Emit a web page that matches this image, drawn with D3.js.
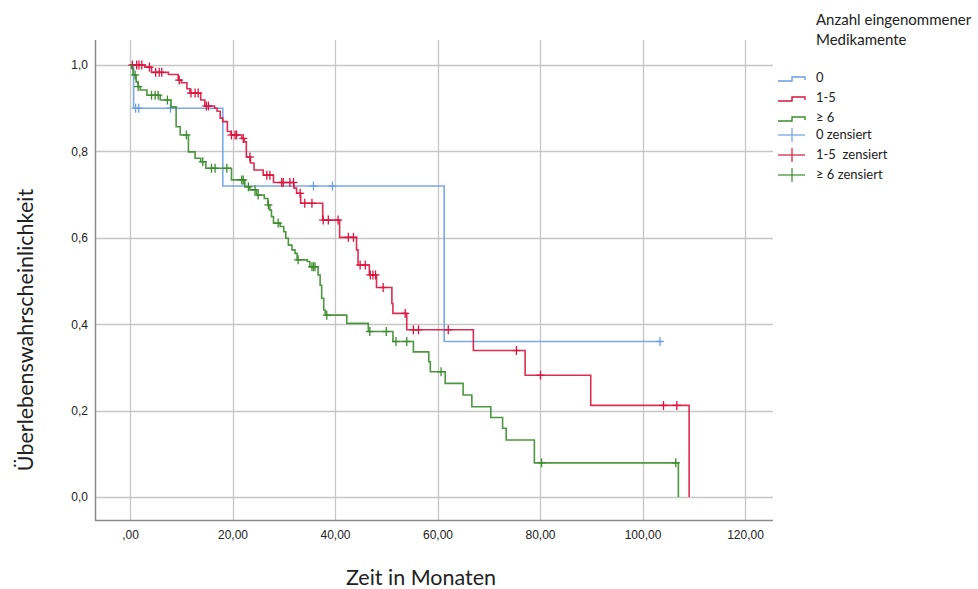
<!DOCTYPE html>
<html>
<head>
<meta charset="utf-8">
<script src="https://cdn.jsdelivr.net/npm/d3@7"></script>
<style>
  html, body { margin: 0; padding: 0; background: #fff; }
  svg { display: block; }
</style>
</head>
<body>
<svg id="chart" width="978" height="589"></svg>
<script>
// ---------- DATA ----------
const xTicks = [0, 20, 40, 60, 80, 100, 120];
const xTickLabels = [",00", "20,00", "40,00", "60,00", "80,00", "100,00", "120,00"];
const yTicks = [0, 0.2, 0.4, 0.6, 0.8, 1.0];
const yTickLabels = ["0,0", "0,2", "0,4", "0,6", "0,8", "1,0"];

const groupNames = ["0", "1-5", "\u2265 6"];
const censorNames = ["0 zensiert", "1-5  zensiert", "\u2265 6 zensiert"];

// Group "0": step times and survival after the step
const g0Times = [0, 0.7, 18.1, 61.3, 104.0];
const g0Surv  = [1.0, 0.9, 0.72, 0.36, 0.36];
const g0Censor = [1.1, 1.7, 7.9, 35.8, 39.5, 103.4];

// Group "1-5"
const g1Times = [0, 2.9, 4.2, 7.5, 9.4, 10.0, 11.1, 11.7, 13.8, 14.6, 16.5, 17.0, 17.6, 18.1, 19.0, 19.7,
  21.8, 22.3, 22.7, 23.5, 24.2, 26.0, 28.0, 32.0, 32.5, 33.3, 37.6, 40.9, 44.2, 44.5, 46.7, 48.1,
  51.1, 51.3, 54.0, 67.0, 77.1, 89.9, 109.1];
const g1Surv = [1.0, 0.995, 0.983, 0.978, 0.965, 0.959, 0.945, 0.935, 0.919, 0.905, 0.9, 0.893, 0.877, 0.869, 0.846, 0.838,
  0.83, 0.822, 0.787, 0.773, 0.757, 0.745, 0.728, 0.715, 0.703, 0.68, 0.641, 0.601, 0.572, 0.537, 0.514, 0.485,
  0.448, 0.425, 0.387, 0.339, 0.282, 0.212, 0.0];
const g1Censor = [0.45, 1.3, 1.75, 2.3, 3.8, 5.0, 5.7, 6.2, 9.6, 11.9, 12.7, 13.3, 14.9, 15.3, 19.8, 20.5, 20.8,
  22.1, 23.4, 26.7, 27.3, 29.6, 29.9, 31.2, 31.9, 33.2, 34.1, 35.5, 37.7, 38.7, 40.6, 42.6, 43.6,
  44.9, 45.9, 46.9, 47.4, 47.9, 49.4, 53.7, 55.3, 56.3, 62.1, 75.4, 80.1, 104.1, 106.7];

// Group ">= 6"
const g2Times = [0, 0.3, 0.6, 1.2, 1.6, 2.0, 3.3, 5.9, 8.0, 9.0, 9.8, 11.4, 12.7, 13.8, 14.8, 19.8,
  22.4, 23.4, 24.7, 26.2, 26.9, 27.3, 27.6, 28.0, 29.3, 30.0, 30.4, 30.9, 31.6, 32.2, 32.6, 34.6,
  35.1, 36.7, 37.1, 37.4, 37.8, 38.1, 42.3, 46.5, 51.3, 55.3, 58.3, 58.6, 61.5, 65.0, 66.7, 70.4,
  72.7, 73.4, 78.9, 107.0];
const g2Surv = [1.0, 0.992, 0.977, 0.961, 0.95, 0.942, 0.93, 0.919, 0.903, 0.857, 0.838, 0.799, 0.784, 0.776, 0.761, 0.734,
  0.718, 0.711, 0.699, 0.691, 0.676, 0.664, 0.649, 0.634, 0.626, 0.614, 0.599, 0.583, 0.572, 0.564, 0.549, 0.545,
  0.533, 0.514, 0.49, 0.46, 0.433, 0.421, 0.402, 0.383, 0.36, 0.336, 0.313, 0.29, 0.263, 0.236, 0.209, 0.184,
  0.159, 0.132, 0.079, 0.0];
const g2Censor = [1.0, 1.6, 4.2, 4.9, 5.5, 7.3, 11.0, 14.2, 15.9, 16.6, 18.9, 21.8, 22.1, 23.1, 24.4, 25.0, 27.0,
  28.9, 32.8, 35.5, 35.8, 36.1, 38.4, 46.8, 50.0, 51.9, 54.0, 60.7, 80.3, 106.5];

const groupColors = ["#6b9ee6", "#d8163f", "#3b8c2c"];

// ---------- LAYOUT ----------
const svg = d3.select("#chart");
const plotLeft = 95, plotRight = 773, plotTop = 40, plotBottom = 520;
const x = d3.scaleLinear().domain([0, 120]).range([130, 745]);
const y = d3.scaleLinear().domain([0, 1]).range([497, 65]);

// gridlines
const grid = svg.append("g");
grid.selectAll("line.h").data(yTicks).enter().append("line")
  .attr("x1", plotLeft).attr("x2", plotRight)
  .attr("y1", d => Math.round(y(d)) + 0.5).attr("y2", d => Math.round(y(d)) + 0.5)
  .attr("stroke", "#c6c6c6").attr("stroke-width", 1.3);
grid.selectAll("line.v").data(xTicks).enter().append("line")
  .attr("y1", plotTop).attr("y2", plotBottom)
  .attr("x1", d => Math.round(x(d)) + 0.5).attr("x2", d => Math.round(x(d)) + 0.5)
  .attr("stroke", "#c6c6c6").attr("stroke-width", 1.3);

// axes
const xAxis = d3.axisBottom(x).tickValues(xTicks).tickSize(0).tickPadding(10)
  .tickFormat((d, i) => xTickLabels[i]);
const gx = svg.append("g").attr("transform", `translate(0,${plotBottom})`).call(xAxis);
gx.select(".domain").remove();
gx.selectAll("text").attr("font-family", "'Liberation Sans', Arial, sans-serif")
  .attr("font-size", 12).attr("fill", "#222");

const yAxis = d3.axisLeft(y).tickValues(yTicks).tickSize(0).tickPadding(7)
  .tickFormat((d, i) => yTickLabels[i]);
const gy = svg.append("g").attr("transform", `translate(${plotLeft},0)`).call(yAxis);
gy.select(".domain").remove();
gy.selectAll("text").attr("font-family", "'Liberation Sans', Arial, sans-serif")
  .attr("font-size", 12).attr("fill", "#222");

svg.append("line").attr("x1", plotLeft + 0.5).attr("x2", plotLeft + 0.5)
  .attr("y1", plotTop).attr("y2", plotBottom + 1).attr("stroke", "#8a8a8a").attr("stroke-width", 1.5);
svg.append("line").attr("x1", plotLeft).attr("x2", plotRight)
  .attr("y1", plotBottom + 0.5).attr("y2", plotBottom + 0.5).attr("stroke", "#8a8a8a").attr("stroke-width", 1.5);

// axis titles
svg.append("text").attr("x", 421).attr("y", 585).attr("text-anchor", "middle")
  .attr("font-family", "Lato, 'Open Sans', sans-serif").attr("font-size", 21.5).attr("fill", "#222")
  .text("Zeit in Monaten");
svg.append("text").attr("transform", "translate(33,330) rotate(-90)").attr("text-anchor", "middle")
  .attr("font-family", "Lato, 'Open Sans', sans-serif").attr("font-size", 21.5).attr("fill", "#222")
  .text("Überlebenswahrscheinlichkeit");

// curves
const groups = [
  { times: g0Times, surv: g0Surv, censor: g0Censor },
  { times: g1Times, surv: g1Surv, censor: g1Censor },
  { times: g2Times, surv: g2Surv, censor: g2Censor }
];
const line = d3.line().x(d => x(d[0])).y(d => y(d[1])).curve(d3.curveStepAfter);
function survAt(g, t) {
  let s = g.surv[0];
  for (let i = 0; i < g.times.length; i++) { if (g.times[i] <= t) s = g.surv[i]; }
  return s;
}
groups.forEach((g, gi) => {
  const pts = g.times.map((t, i) => [t, g.surv[i]]);
  svg.append("path").attr("d", line(pts)).attr("fill", "none")
    .attr("stroke", groupColors[gi]).attr("stroke-width", 1.6).attr("stroke-opacity", 0.9);
  const cg = svg.append("g").attr("stroke", groupColors[gi]).attr("stroke-width", 1.3);
  g.censor.forEach(t => {
    const cx = x(t), cy = y(survAt(g, t));
    cg.append("line").attr("x1", cx).attr("x2", cx).attr("y1", cy - 4.5).attr("y2", cy + 4.5);
    cg.append("line").attr("x1", cx - 4).attr("x2", cx + 4).attr("y1", cy).attr("y2", cy);
  });
});

// legend
const symG = svg.append("g");
const lg = svg.append("g").attr("font-family", "Lato, 'Open Sans', sans-serif").attr("fill", "#222");
lg.append("text").attr("x", 816).attr("y", 25).attr("font-size", 15).text("Anzahl eingenommener");
lg.append("text").attr("x", 816).attr("y", 45).attr("font-size", 15).text("Medikamente");
const stepYs = [77, 97, 117];
groupNames.forEach((n, i) => {
  const cy = stepYs[i];
  symG.append("path")
    .attr("d", `M778,${cy + 4}H792V${cy}H805V${cy + 3}`)
    .style("fill", "none").style("stroke", groupColors[i]).style("stroke-width", 1.4);
  lg.append("text").attr("x", 816).attr("y", cy + 5).attr("font-size", 13).text(n);
});
const censYs = [135, 155, 175];
censorNames.forEach((n, i) => {
  const cy = censYs[i];
  symG.append("line").attr("x1", 778).attr("x2", 805).attr("y1", cy).attr("y2", cy)
    .style("stroke", groupColors[i]).style("stroke-width", 1.2);
  symG.append("line").attr("x1", 792).attr("x2", 792).attr("y1", cy - 7).attr("y2", cy + 7)
    .style("stroke", groupColors[i]).style("stroke-width", 1.2);
  lg.append("text").attr("x", 816).attr("y", cy + 4).attr("font-size", 13)
    .style("white-space", "pre").text(n);
});
</script>
</body>
</html>
